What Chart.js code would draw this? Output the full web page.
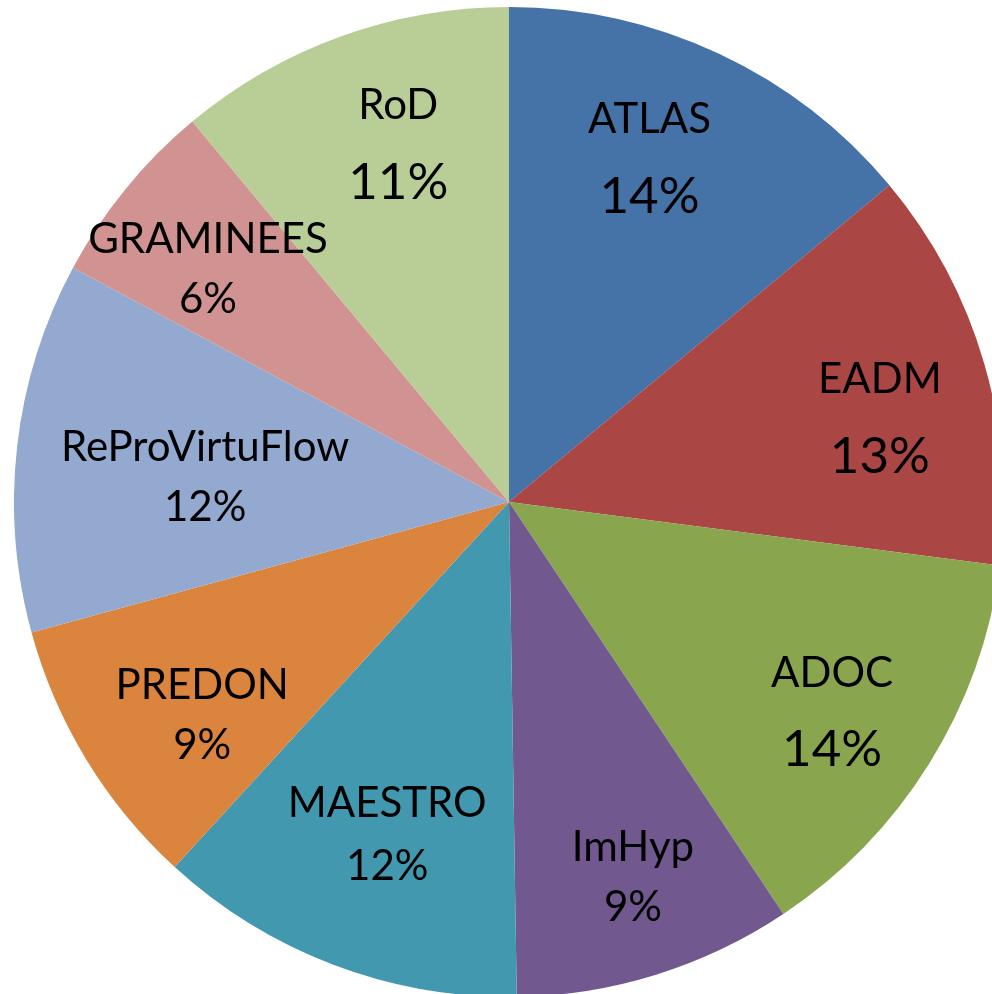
<!DOCTYPE html>
<html>
<head>
<meta charset="utf-8">
<script src="https://cdn.jsdelivr.net/npm/chart.js@4.4.1/dist/chart.umd.min.js"></script>
<style>
  html, body { margin: 0; padding: 0; background: #ffffff; }
  #wrap { position: relative; width: 992px; height: 994px; overflow: hidden; background: #fff; }
  #c { position: absolute; left: 14px; top: 0px; }
</style>
</head>
<body>
<div id="wrap"><canvas id="c" width="990" height="1004"></canvas></div>
<script>
// ---- data ----
const categories = ['ATLAS', 'EADM', 'ADOC', 'ImHyp', 'MAESTRO', 'PREDON', 'ReProVirtuFlow', 'GRAMINEES', 'RoD'];
const shares = [13.95, 13.1, 13.6, 9.1, 12.05, 8.95, 12.1, 6.1, 11.05];
const sliceColors = ['#4572A7', '#AA4643', '#89A54E', '#71588F', '#4198AF', '#DB843D', '#93A9CF', '#D19392', '#B9CD96'];

// ---- label layout (angle shift in degrees, radius fraction, percent font size, line gap) ----
const labelAngleShift = [-2.9, 3.5, 1.1, -1.0, -0.7, -3.4, -1.8, -1.6, 2.7];
const labelRadiusFrac = [0.751, 0.768, 0.778, 0.798, 0.716, 0.755, 0.616, 0.768, 0.757];
const pctFontSize = [51, 51, 51, 42, 42, 42, 42, 42, 51];
const lineGap = [77, 77, 76, 60, 63, 60, 60, 60, 78];
const nameFontSize = 42;
const FONT = 'Lato, "Open Sans", sans-serif';

const labelPlugin = {
  id: 'sliceLabels',
  afterDatasetsDraw(chart) {
    const ctx = chart.ctx;
    const meta = chart.getDatasetMeta(0);
    const ds = chart.data.datasets[0].data;
    const total = ds.reduce((a, b) => a + b, 0);
    ctx.save();
    ctx.fillStyle = '#000000';
    ctx.textAlign = 'center';
    ctx.textBaseline = 'middle';
    meta.data.forEach((arc, i) => {
      const p = arc.getProps(['x', 'y', 'startAngle', 'endAngle', 'outerRadius'], true);
      const mid = (p.startAngle + p.endAngle) / 2 + labelAngleShift[i] * Math.PI / 180;
      const r = p.outerRadius * labelRadiusFrac[i];
      const cx = p.x + Math.cos(mid) * r;
      const cy = p.y + Math.sin(mid) * r;
      const pct = Math.round(ds[i] / total * 100) + '%';
      ctx.font = nameFontSize + 'px ' + FONT;
      ctx.fillText(chart.data.labels[i], cx, cy - lineGap[i] / 2);
      ctx.font = pctFontSize[i] + 'px ' + FONT;
      ctx.fillText(pct, cx, cy + lineGap[i] / 2);
    });
    ctx.restore();
  }
};

new Chart(document.getElementById('c'), {
  type: 'pie',
  data: {
    labels: categories,
    datasets: [{
      data: shares,
      backgroundColor: sliceColors,
      borderWidth: 0
    }]
  },
  options: {
    responsive: false,
    devicePixelRatio: 1,
    animation: false,
    radius: 495,
    layout: { padding: 0 },
    plugins: {
      legend: { display: false },
      tooltip: { enabled: false }
    }
  },
  plugins: [labelPlugin]
});
</script>
</body>
</html>
